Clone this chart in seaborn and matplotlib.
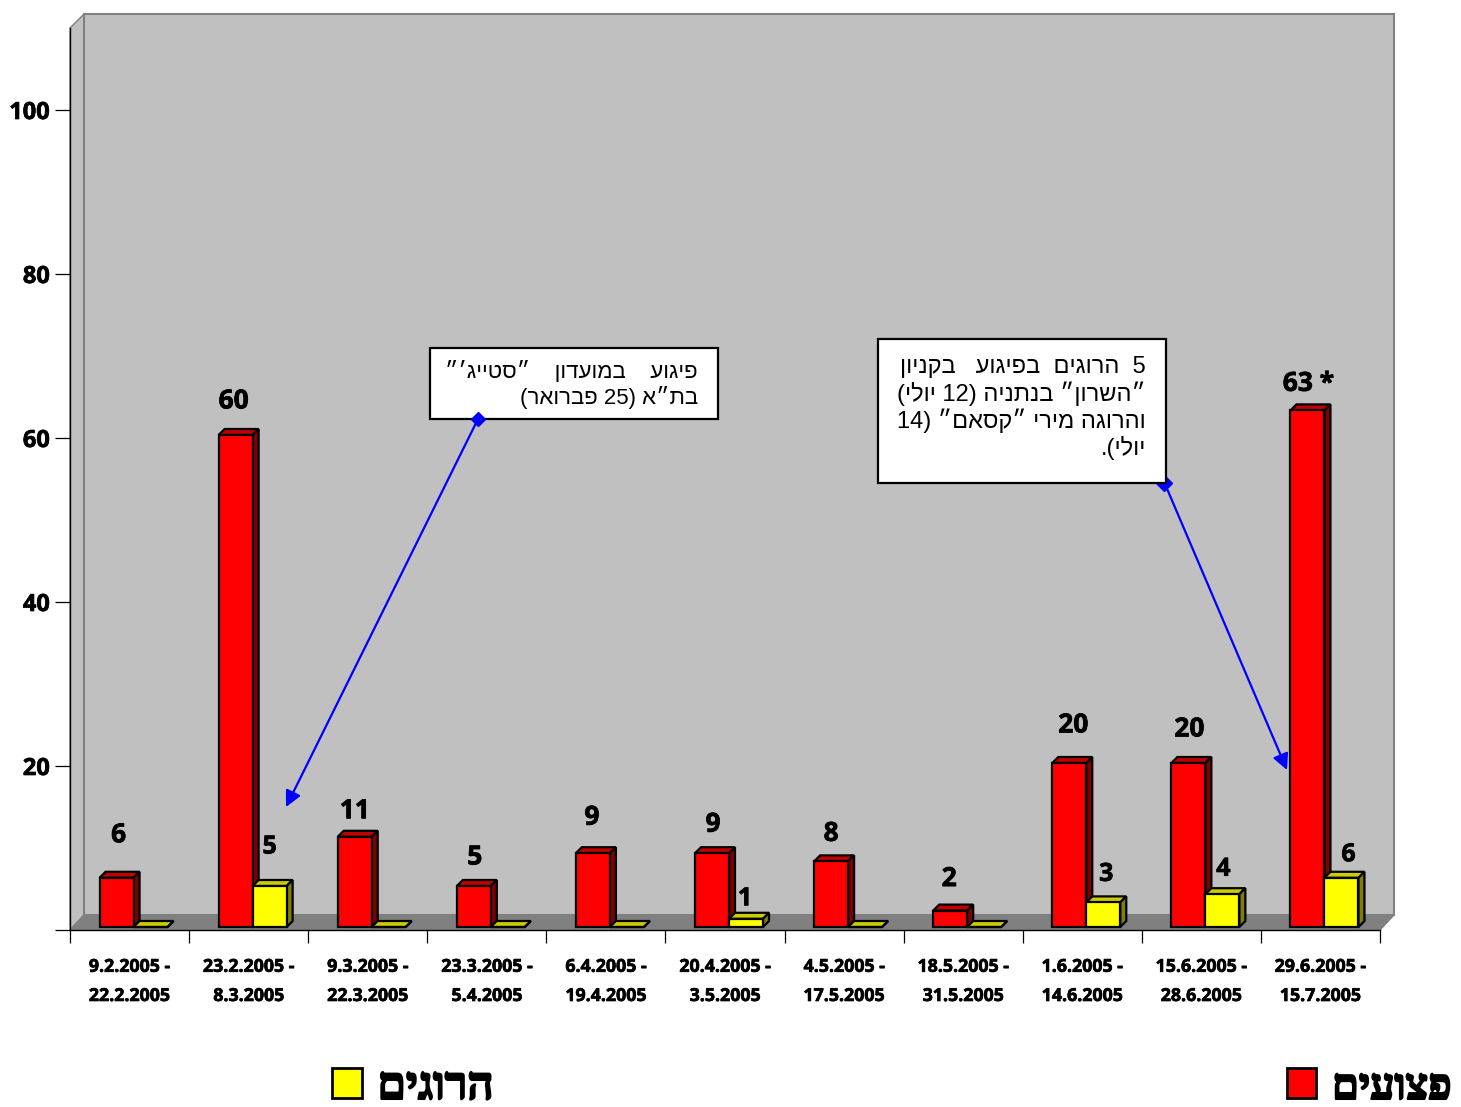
import re
import numpy as np
import pandas as pd
import seaborn as sns
import matplotlib
matplotlib.use('Agg')
import matplotlib.pyplot as plt
import matplotlib.patheffects as pe
from matplotlib.patches import Patch, Polygon, Rectangle
from matplotlib.transforms import ScaledTranslation

periods = ['9.2.2005 -\n22.2.2005', '23.2.2005 -\n8.3.2005', '9.3.2005 -\n22.3.2005',
           '23.3.2005 -\n5.4.2005', '6.4.2005 -\n19.4.2005', '20.4.2005 -\n3.5.2005',
           '4.5.2005 -\n17.5.2005', '18.5.2005 -\n31.5.2005', '1.6.2005 -\n14.6.2005',
           '15.6.2005 -\n28.6.2005', '29.6.2005 -\n15.7.2005']
wounded = [6, 60, 11, 5, 9, 9, 8, 2, 20, 20, 63]
killed = [0, 5, 0, 0, 0, 1, 0, 0, 3, 4, 6]
wounded_labels = ['6', '60', '11', '5', '9', '9', '8', '2', '20', '20', '63 *']
wounded_name = 'פצועים'
killed_name = 'הרוגים'
y_ticks = [20, 40, 60, 80, 100]

note_left = ['פיגוע    במועדון    ״סטייג׳״', 'בת״א (25 פברואר)']
note_right = ['5  הרוגים  בפיגוע   בקניון', '״השרון״ בנתניה (12 יולי)',
              'והרוגה מירי ״קסאם״ (14', 'יולי).']

# label offsets from the bar top, in pixels
wounded_offsets = [(2, 43), (-2, 34), (0, 26), (1, 29), (-1, 36), (1, 29),
                   (0, 28), (-1, 32), (4, 38), (1, 34), (1, 27)]
killed_offsets = [(0, 0), (0, 39), (0, 0), (0, 0), (0, 0), (-1, 20),
                  (0, 0), (0, 0), (3, 28), (1, 25), (7, 23)]


def visual(s):
    # matplotlib has no bidi, so put hebrew into display order
    s = s[::-1]
    s = re.sub(r'\d+', lambda m: m.group()[::-1], s)
    return s.translate(str.maketrans('()', ')('))


W, H = 1461, 1107
DPI = 100
sns.set_style('white')
plt.rcParams['font.family'] = ['Open Sans', 'Liberation Sans', 'DejaVu Sans']
plt.rcParams['text.color'] = 'black'
hebrew_sans = ['Liberation Sans', 'DejaVu Sans']
heavy = [pe.withStroke(linewidth=0.5, foreground='black')]

fig = plt.figure(figsize=(W / DPI, H / DPI), dpi=DPI)

# back layer in pixel coords: walls, floor, notes, arrows
bg = fig.add_axes([0, 0, 1, 1], zorder=0)
bg.set_xlim(0, W)
bg.set_ylim(H, 0)
bg.axis('off')
grey = '#C0C0C0'
dark = '#808080'
bg.add_patch(Polygon([(70, 28), (84, 14), (84, 915), (70, 930)], fc=grey, ec=dark, lw=1))
bg.add_patch(Rectangle((84, 14), 1310, 901, fc=grey, ec=dark, lw=1.5))
bg.add_patch(Polygon([(70, 930), (84, 915), (1394, 915), (1380, 930)], fc=dark, ec=dark, lw=1))

bg.annotate('', xy=(286, 807), xytext=(478, 419),
            arrowprops=dict(arrowstyle='-|>', color='#0000FF', lw=1.6, mutation_scale=24,
                            shrinkA=0, shrinkB=0), zorder=2)
bg.annotate('', xy=(1287, 770), xytext=(1165, 484),
            arrowprops=dict(arrowstyle='-|>', color='#0000FF', lw=1.6, mutation_scale=24,
                            shrinkA=0, shrinkB=0), zorder=2)
bg.plot([1164], [483], marker='D', ms=8, color='#0000FF', zorder=2)
bg.add_patch(Rectangle((430, 348), 288, 71, fc='white', ec='black', lw=1.6, zorder=3))
bg.add_patch(Rectangle((878, 339), 288, 144, fc='white', ec='black', lw=1.6, zorder=3))
bg.plot([478], [419], marker='D', ms=7, color='#0000FF', zorder=4)
bg.text(698, 385, '\n'.join(visual(t) for t in note_left), ha='right', va='center',
        multialignment='right', fontsize=16, linespacing=1.17, family=hebrew_sans, zorder=5)
bg.text(1146, 408, '\n'.join(visual(t) for t in note_right), ha='right', va='center',
        multialignment='right', fontsize=17, linespacing=1.14, family=hebrew_sans, zorder=5)

# chart layer: y runs 0-110 between the front edges of the plot
ax = fig.add_axes([70 / W, 1 - 930 / H, 1310 / W, 902 / H], zorder=1)
ax.set_facecolor('none')

df = pd.DataFrame({
    'period': periods * 2,
    'count': wounded + killed,
    'series': ['wounded'] * len(periods) + ['killed'] * len(periods),
})
sns.barplot(data=df, x='period', y='count', hue='series', order=periods,
            hue_order=['wounded', 'killed'], palette=['#FF0000', '#FFFF00'],
            saturation=1, width=0.571, gap=0, edgecolor='black', linewidth=1.6,
            errorbar=None, legend=False, ax=ax)

ax.set_xlim(-0.5, 10.5)
ax.set_ylim(0, 110)
ax.set_xlabel('')
ax.set_ylabel('')

# bars stand a little inside the floor
front = ax.transData + ScaledTranslation(4 / DPI, 3 / DPI, fig.dpi_scale_trans)
dx = 6 / (1310 / 11)
dy = 6 / (902 / 110)
styles = [('#C00000', '#800000', 2), ('#CCCC00', '#808000', 4)]
for container, (top_col, side_col, z) in zip(ax.containers, styles):
    for p in container:
        x0, y0, w, h = p.get_x(), p.get_y(), p.get_width(), p.get_height()
        x1, y1 = x0 + w, y0 + h
        p.set_transform(front)
        p.set_zorder(z + 1)
        p.set_clip_on(False)
        ax.add_patch(Polygon([(x0, y1), (x0 + dx, y1 + dy), (x1 + dx, y1 + dy), (x1, y1)],
                             fc=top_col, ec='black', lw=1.6, transform=front, zorder=z,
                             clip_on=False))
        ax.add_patch(Polygon([(x1, y0), (x1 + dx, y0 + dy), (x1 + dx, y1 + dy), (x1, y1)],
                             fc=side_col, ec='black', lw=1.6, transform=front, zorder=z,
                             clip_on=False))

for p, label, off in zip(ax.containers[0], wounded_labels, wounded_offsets):
    ax.annotate(label, xy=(p.get_x() + p.get_width() / 2, p.get_height()), xycoords=front,
                xytext=off, textcoords='offset pixels', ha='center', va='center',
                fontsize=19, fontweight='bold', color='black', zorder=8, path_effects=heavy)
for p, v, off in zip(ax.containers[1], killed, killed_offsets):
    if v == 0:
        continue
    ax.annotate(str(v), xy=(p.get_x() + p.get_width() / 2, p.get_height()), xycoords=front,
                xytext=off, textcoords='offset pixels', ha='center', va='center',
                fontsize=18, fontweight='bold', color='black', zorder=8, path_effects=heavy)

sns.despine(ax=ax)
for side in ['left', 'bottom']:
    ax.spines[side].set_color('black')
    ax.spines[side].set_linewidth(1)

ax.set_yticks([0] + y_ticks, labels=[''] + [str(t) for t in y_ticks])
ax.tick_params(axis='y', left=True, length=11, width=0.9, color='black', pad=3.5,
               labelsize=17, labelcolor='black')
ax.set_xticks(np.arange(-0.5, 11, 1), minor=True)
ax.tick_params(axis='x', which='minor', bottom=True, length=9.5, width=0.9, color='black')
ax.tick_params(axis='x', which='major', bottom=False, length=0, pad=20, labelsize=12.8,
               labelcolor='black')
for t in ax.get_yticklabels():
    t.set_fontweight('bold')
    t.set_path_effects(heavy)
for t in ax.get_xticklabels():
    t.set_fontweight('bold')
    t.set_linespacing(1.8)
    t.set_path_effects(heavy)

handles = [Patch(fc='#FFFF00', ec='black', lw=2, label=visual(killed_name)),
           Patch(fc='#FF0000', ec='black', lw=2, label=visual(wounded_name))]
leg = fig.legend(handles=handles, ncol=2, frameon=False, loc='center left',
                 bbox_to_anchor=(332 / W, 1 - 1088 / H), borderaxespad=0, borderpad=0,
                 prop=dict(family=['Liberation Serif', 'DejaVu Serif'], weight='bold', size=33),
                 handlelength=0.65, handleheight=0.65, handletextpad=0.34, columnspacing=17.3)
for t in leg.get_texts():
    t.set_path_effects([pe.withStroke(linewidth=1.5, foreground='black')])
leg.get_texts()[1].set_fontsize(31)

fig.savefig('out.png', dpi=DPI)
